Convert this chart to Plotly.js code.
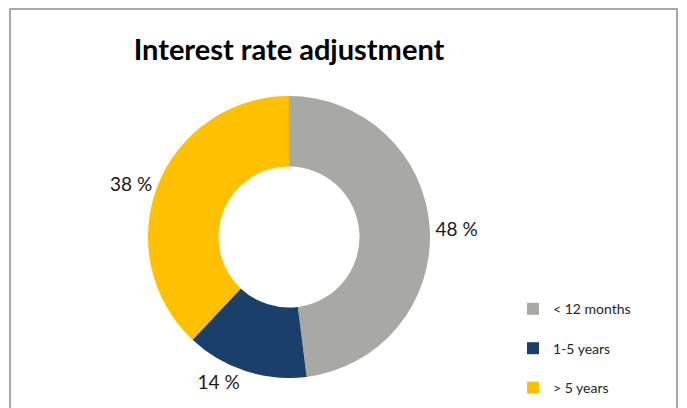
<!DOCTYPE html>
<html>
<head>
<meta charset="utf-8">
<script src="https://cdn.plot.ly/plotly-3.0.1.min.js"></script>
<style>html,body{margin:0;padding:0;background:#fff;}#chart{width:687px;height:408px;}</style>
</head>
<body>
<div id="chart"></div>
<script>
const categories = ['< 12 months', '1-5 years', '> 5 years'];
const shares = [48, 14, 38];
const sliceColors = ['#A8A9A4', '#1A3F6B', '#FFC000'];
const chartTitle = 'Interest rate adjustment';

const W = 687, H = 408;
const trace = {
  type: 'pie',
  labels: categories.map(c => ' <br>' + c),
  values: shares,
  sort: false,
  direction: 'clockwise',
  rotation: 0,
  hole: 0.5,
  marker: {colors: sliceColors, line: {width: 0}},
  textinfo: 'value',
  texttemplate: '%{value} %',
  textposition: 'outside',
  outsidetextfont: {family: 'Lato, sans-serif', size: 19, color: '#1a1a1a'},
  domain: {x: [148 / W, 430 / W], y: [30 / H, 312 / H]},
  hoverinfo: 'value'
};

const layout = {
  width: W, height: H,
  margin: {l: 0, r: 0, t: 0, b: 0},
  paper_bgcolor: '#fff',
  showlegend: true,
  title: {
    text: '<b>' + chartTitle + '</b>',
    font: {family: 'Lato, sans-serif', size: 29, color: '#000'},
    x: 289 / W, xanchor: 'center', xref: 'paper',
    y: 1 - 50 / H, yanchor: 'middle', yref: 'paper'
  },
  legend: {
    x: 513 / W, xanchor: 'left',
    y: 1 - 275 / H, yanchor: 'top',
    valign: 'bottom',
    font: {family: 'Lato, sans-serif', size: 14, color: '#262626'},
    itemwidth: 30,
    bgcolor: 'rgba(0,0,0,0)'
  },
  shapes: [{
    type: 'rect', xref: 'paper', yref: 'paper',
    x0: 10 / W, x1: 677 / W, y0: -0.2, y1: 1 - 9 / H,
    line: {color: '#8c8c8c', width: 1.5}, fillcolor: 'rgba(0,0,0,0)', layer: 'below'
  }]
};

Plotly.newPlot('chart', [trace], layout, {displayModeBar: false, staticPlot: true});
</script>
</body>
</html>
